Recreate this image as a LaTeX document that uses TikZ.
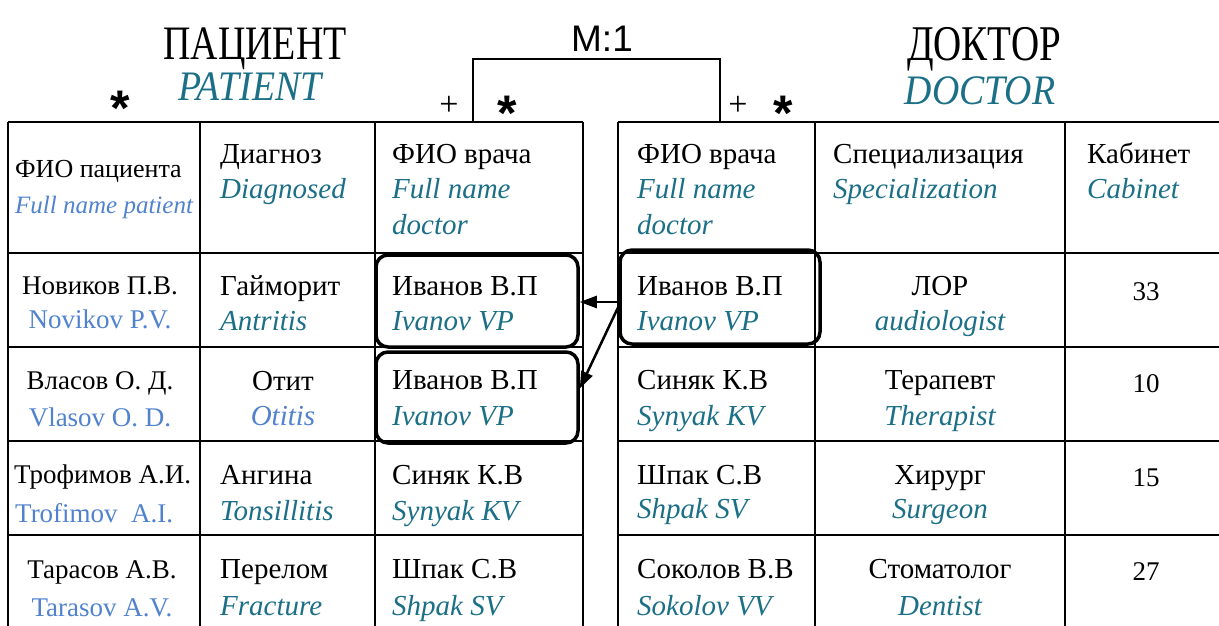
\documentclass[tikz,border=0pt]{standalone}
\usepackage{fontspec}
\usepackage{graphicx}
\setmainfont{Liberation Serif}
\newfontfamily\arialf{Liberation Sans}
\usetikzlibrary{arrows.meta,calc}
\definecolor{teal1}{RGB}{27,111,134}
\definecolor{lblue}{RGB}{80,130,205}
\begin{document}
\begin{tikzpicture}[x=1pt,y=-1pt,
  gridline/.style={line width=2pt},
  hlbox/.style={draw, line width=3.5pt, rounded corners=12pt, inner sep=0pt},
  ru/.style={inner sep=0pt, anchor=base west, font=\fontsize{29}{34}\selectfont},
  en/.style={inner sep=0pt, anchor=base west, text=teal1, font=\fontsize{29}{34}\selectfont\itshape},
  ruc/.style={ru, anchor=base},
  enc/.style={en, anchor=base},
  pn/.style={inner sep=0pt, anchor=base, font=\fontsize{27}{32}\selectfont},
  pe/.style={pn, text=lblue},
  arr/.style={line width=2.5pt, -{Triangle[length=17pt,width=12pt]}},
  plus/.style={inner sep=0pt, anchor=base, text depth=0pt, font=\fontsize{34}{36}\selectfont},
  star/.style={inner sep=0pt, anchor=base, text depth=0pt, font=\arialf\bfseries\fontsize{50}{50}\selectfont},
  title/.style={anchor=base, inner sep=0pt, text depth=0pt},
  num/.style={inner sep=0pt, anchor=base, font=\fontsize{27}{32}\selectfont}
]
\useasboundingbox (0,0) rectangle (1219,626);

% ---- table grids
\foreach \yy in {122,253,347,441,535} {
  \draw[gridline] (8,\yy) -- (583,\yy);
  \draw[gridline] (618,\yy) -- (1219,\yy);
}
\foreach \xx in {8,200,375,583,618,815,1065} {
  \draw[gridline] (\xx,122) -- (\xx,626);
}

% ---- titles
\node[title] (tPat) at (255,60) {\fontsize{48}{48}\selectfont\scalebox{0.79}[1]{ПАЦИЕНТ}};
\node[title, text=teal1] (tPatE) at (250,101) {\fontsize{42}{42}\selectfont\itshape\scalebox{0.9}[1]{PATIENT}};
\node[title] (tDoc) at (984,61) {\fontsize{50}{50}\selectfont\scalebox{0.78}[1]{ДОКТОР}};
\node[title, text=teal1] (tDocE) at (980,104) {\fontsize{42}{42}\selectfont\itshape\scalebox{0.9}[1]{DOCTOR}};
\node[title, font=\arialf\fontsize{37}{37}\selectfont] (rel) at (602,52) {M:1};

% ---- relationship bracket
\coordinate (kL) at (473,122);
\coordinate (kR) at (720,122);
\draw[gridline] (kL) -- (kL |- 0,59) -- (kR |- 0,59) -- (kR);

\node[star] (s0) at (120,125) {*};
\node[plus] (p1) at (449,115) {+};
\node[star] (s1) at (507,130) {*};
\node[plus] (p2) at (738,115) {+};
\node[star] (s2) at (783,130) {*};

% ---- left table header
\node[inner sep=0pt, anchor=base west, font=\fontsize{26}{30}\selectfont] (h11) at (15,177) {ФИО пациента};
\node[inner sep=0pt, anchor=base west, text=lblue, font=\fontsize{25}{30}\selectfont\itshape] (h11e) at (15,213) {Full name patient};
\node[ru] (h12) at (220,163) {Диагноз};
\node[en] (h12e) at (220,198) {Diagnosed};
\node[ru] (h13) at (392,163) {ФИО врача};
\node[en] (h13e) at (392,198) {Full name};
\node[en] (h13f) at (392,234) {doctor};

% ---- right table header
\node[ru] (h21) at (637,163) {ФИО врача};
\node[en] (h21e) at (637,198) {Full name};
\node[en] (h21f) at (637,234) {doctor};
\node[ru] (h22) at (833,163) {Специализация};
\node[en] (h22e) at (833,198) {Specialization};
\node[ru] (h23) at (1087,163) {Кабинет};
\node[en] (h23e) at (1087,198) {Cabinet};

% ---- left table rows
\node[pn] (a11) at (100,294) {Новиков П.В.};
\node[pe] (a11e) at (100,328) {Novikov P.V.};
\node[ru] (a12) at (220,295) {Гайморит};
\node[en] (a12e) at (220,330) {Antritis};
\node[ru] (a13) at (392,295) {Иванов В.П};
\node[en] (a13e) at (392,330) {Ivanov VP};

\node[pn] (a21) at (100,389) {Власов О. Д.};
\node[pe] (a21e) at (100,426) {Vlasov O. D.};
\node[ruc] (a22) at (283,390) {Отит};
\node[enc, text=lblue] (a22e) at (283,425) {Otitis};
\node[ru] (a23) at (392,389) {Иванов В.П};
\node[en] (a23e) at (392,425) {Ivanov VP};

\node[pn, anchor=base west] (a31) at (14,483) {Трофимов А.И.};
\node[pe, anchor=base west] (a31e) at (15,522) {Trofimov\ \ A.I.};
\node[ru] (a32) at (220,484) {Ангина};
\node[en] (a32e) at (220,520) {Tonsillitis};
\node[ru] (a33) at (392,484) {Синяк К.В};
\node[en] (a33e) at (392,520) {Synyak KV};

\node[pn] (a41) at (102,578) {Тарасов А.В.};
\node[pe] (a41e) at (102,616) {Tarasov A.V.};
\node[ru] (a42) at (220,578) {Перелом};
\node[en] (a42e) at (220,615) {Fracture};
\node[ru] (a43) at (392,578) {Шпак С.В};
\node[en] (a43e) at (392,615) {Shpak SV};

% ---- right table rows
\node[ru] (b11) at (637,295) {Иванов В.П};
\node[en] (b11e) at (637,330) {Ivanov VP};
\node[ruc] (b12) at (940,295) {ЛОР};
\node[enc] (b12e) at (940,330) {audiologist};
\node[num] (b13) at (1146,300) {33};

\node[ru] (b21) at (637,389) {Синяк К.В};
\node[en] (b21e) at (637,425) {Synyak KV};
\node[ruc] (b22) at (940,389) {Терапевт};
\node[enc] (b22e) at (940,425) {Therapist};
\node[num] (b23) at (1146,392) {10};

\node[ru] (b31) at (637,484) {Шпак С.В};
\node[en] (b31e) at (637,518) {Shpak SV};
\node[ruc] (b32) at (940,484) {Хирург};
\node[enc] (b32e) at (940,518) {Surgeon};
\node[num] (b33) at (1146,486) {15};

\node[ru] (b41) at (637,578) {Соколов В.В};
\node[en] (b41e) at (637,615) {Sokolov VV};
\node[ruc] (b42) at (940,578) {Стоматолог};
\node[enc] (b42e) at (940,615) {Dentist};
\node[num] (b43) at (1146,580) {27};

% ---- highlighted cells
\node[hlbox, minimum width=202pt, minimum height=92pt] (box1) at (477,301) {};
\node[hlbox, minimum width=202pt, minimum height=91pt] (box2) at (477,397.5) {};
\node[hlbox, minimum width=200pt, minimum height=94pt] (boxR) at (720,297) {};

% ---- arrows
\draw[arr] ($(boxR.west)+(0,5)$) -- ($(box1.east)+(0,1)$);
\draw[arr] ($(boxR.west)+(0,10)$) -- ($(box2.east)+(0,-9)$);
\end{tikzpicture}
\end{document}
